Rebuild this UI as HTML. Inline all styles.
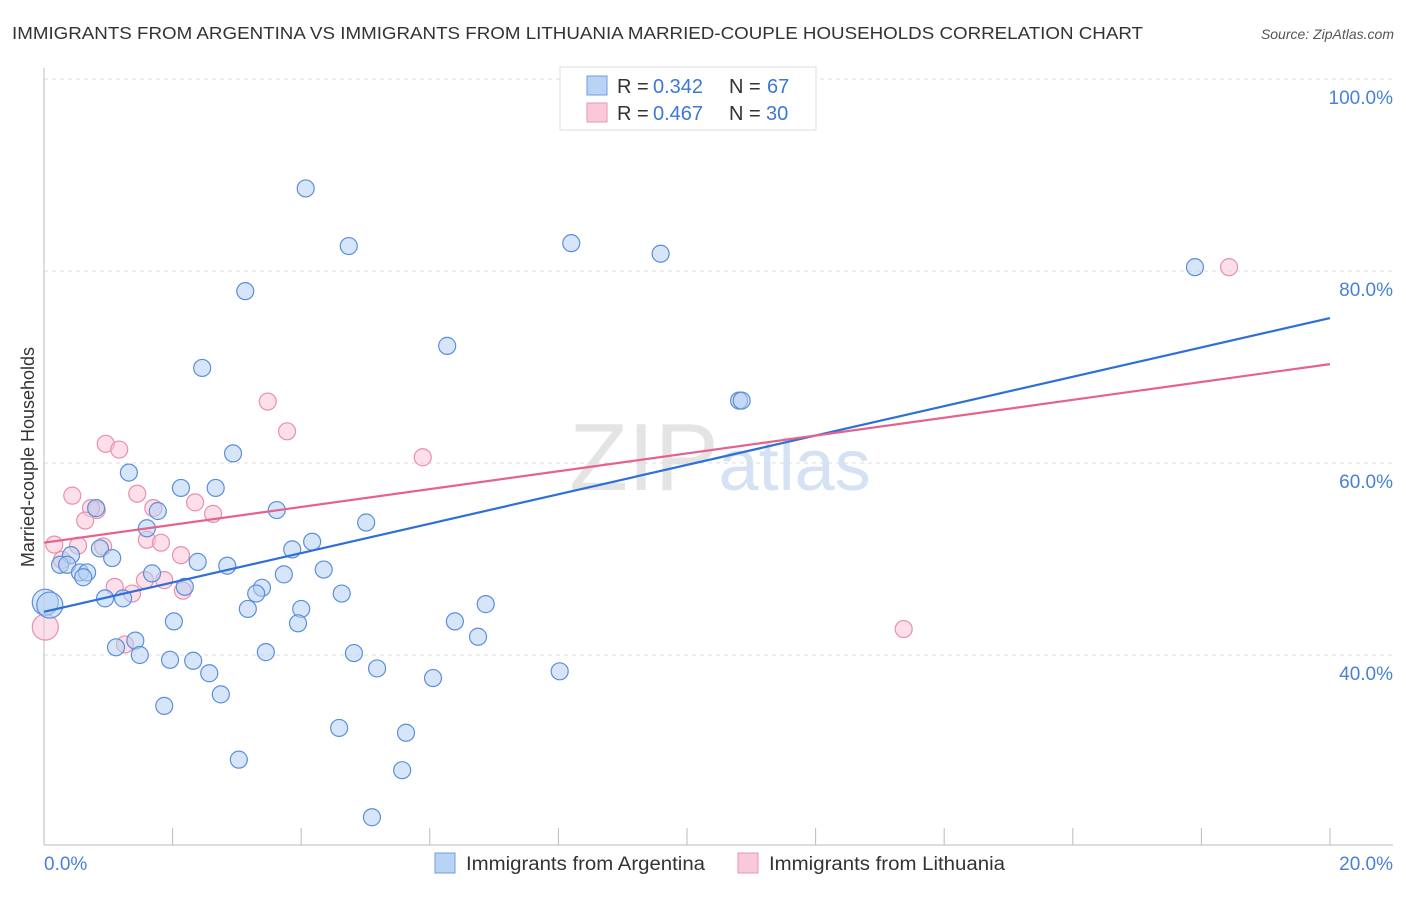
<!DOCTYPE html>
<html><head><meta charset="utf-8"><style>
body{margin:0;background:#fff;font-family:"Liberation Sans",sans-serif;}
svg text{font-family:"Liberation Sans",sans-serif;}
</style></head><body>
<svg id="chart" width="1406" height="892" viewBox="0 0 1406 892">
<text x="12" y="39" font-size="17.5" fill="#333" textLength="1131" lengthAdjust="spacingAndGlyphs">IMMIGRANTS FROM ARGENTINA VS IMMIGRANTS FROM LITHUANIA MARRIED-COUPLE HOUSEHOLDS CORRELATION CHART</text>
<text x="1394" y="39" font-size="14" fill="#555" font-style="italic" text-anchor="end">Source: ZipAtlas.com</text>
<text x="720" y="490" font-size="96" fill="#e4e4e4" text-anchor="middle" font-family="Liberation Serif">ZIP<tspan fill="#d4e2f4" font-family="Liberation Sans" font-size="72">atlas</tspan></text>
<g id="grid"></g>
<g id="axes"></g>
<g id="pts"></g>
<g id="lines"></g>
<text transform="translate(34,457) rotate(-90)" font-size="18" fill="#333" text-anchor="middle">Married-couple Households</text>
<g>
<rect x="560" y="67" width="256" height="63" fill="#fff" stroke="#ddd"/>
<rect x="587" y="76" width="20" height="19" fill="#b9d3f4" stroke="#6d9de0"/>
<rect x="587" y="103" width="20" height="19" fill="#f9c9d8" stroke="#e896b2"/>
<text x="617" y="93" font-size="20" fill="#333">R =</text>
<text x="653" y="93" font-size="20" fill="#3b78d8">0.342</text>
<text x="729" y="93" font-size="20" fill="#333">N =</text>
<text x="767" y="93" font-size="20" fill="#3b78d8">67</text>
<text x="617" y="120" font-size="20" fill="#333">R =</text>
<text x="653" y="120" font-size="20" fill="#3b78d8">0.467</text>
<text x="729" y="120" font-size="20" fill="#333">N =</text>
<text x="766" y="120" font-size="20" fill="#3b78d8">30</text>
</g>
<g>
<rect x="435" y="853" width="20" height="20" fill="#b9d3f4" stroke="#6d9de0"/>
<text x="466" y="870" font-size="19" fill="#333" textLength="239" lengthAdjust="spacingAndGlyphs">Immigrants from Argentina</text>
<rect x="738" y="853" width="20" height="20" fill="#f9c9d8" stroke="#e896b2"/>
<text x="769" y="870" font-size="19" fill="#333" textLength="236" lengthAdjust="spacingAndGlyphs">Immigrants from Lithuania</text>
</g>
</svg>
<script>
const blueX=[4.07,4.74,8.20,9.59,17.90,3.13,6.27,2.46,10.81,10.85,2.94,1.32,2.13,2.67,0.81,1.77,3.62,1.60,5.01,4.17,3.86,0.87,1.06,0.42,0.25,0.36,0.56,0.67,2.39,2.85,1.68,3.73,4.35,0.02,0.09,0.95,1.23,2.19,3.39,3.30,4.63,3.17,4.00,6.87,2.02,3.95,6.39,6.75,1.42,1.12,1.49,3.45,4.82,1.96,2.32,5.18,8.02,2.57,6.05,2.75,1.87,4.59,5.63,3.03,5.57,5.10,0.61];
const blueY=[88.6,82.6,82.9,81.8,80.4,77.9,72.2,69.9,66.5,66.5,61.0,59.0,57.4,57.4,55.3,55.0,55.1,53.2,53.8,51.8,51.0,51.1,50.1,50.4,49.4,49.4,48.6,48.6,49.7,49.3,48.5,48.4,48.9,45.5,45.2,45.9,45.9,47.1,47.0,46.4,46.4,44.8,44.8,45.3,43.5,43.3,43.5,41.9,41.5,40.8,40.0,40.3,40.2,39.5,39.4,38.6,38.3,38.1,37.6,35.9,34.7,32.4,31.9,29.1,28.0,23.1,48.1];
const pinkX=[18.43,3.48,3.78,5.89,0.96,1.17,0.44,1.45,2.35,0.82,0.73,1.70,0.64,2.63,1.60,1.82,0.16,0.53,0.92,2.13,0.28,1.57,1.87,1.10,1.37,2.16,1.26,13.37,0.02];
const pinkY=[80.4,66.4,63.3,60.6,62.0,61.4,56.6,56.8,55.9,55.1,55.3,55.3,54.0,54.7,52.0,51.7,51.5,51.4,51.3,50.4,49.9,47.8,47.8,47.1,46.4,46.7,41.1,42.7,42.9];
const blueTrend=[44.5,75.1];
const pinkTrend=[51.7,70.3];
const yTicks=[100,80,60,40];
const yTickLabels=["100.0%","80.0%","60.0%","40.0%"];
const xTicks=[0,2,4,6,8,10,12,14,16,18,20];
const xs=v=>44+v/20*1286;
const ys=v=>79+(100-v)*9.6;
const NS="http://www.w3.org/2000/svg";
function mk(tag,attrs,parent){const e=document.createElementNS(NS,tag);for(const k in attrs)e.setAttribute(k,attrs[k]);parent.appendChild(e);return e;}
const grid=document.getElementById('grid'),axes=document.getElementById('axes'),pts=document.getElementById('pts'),lines=document.getElementById('lines');
yTicks.forEach((t,i)=>{
 const g=mk('line',{x1:44,x2:1393,y1:ys(t),y2:ys(t),stroke:'#ddd','stroke-dasharray':'4,4'},grid);
 
 
 const tx=mk('text',{x:1393,y:ys(t)+25,'font-size':19,fill:'#4a80d8','text-anchor':'end'},axes);
 tx.textContent=yTickLabels[i];
 
 
});
const ax=mk('line',{x1:44,x2:44,y1:68,y2:845,stroke:'#bbb'},axes);


const bx=mk('line',{x1:44,x2:1393,y1:845,y2:845,stroke:'#bbb'},axes);


xTicks.forEach(t=>{
 const l=mk('line',{x1:xs(t),x2:xs(t),y1:828,y2:845,stroke:'#bbb'},axes);
 
 
});
const xl0=mk('text',{x:44,y:870,'font-size':19,fill:'#4a80d8'},axes);xl0.textContent='0.0%';


const xl1=mk('text',{x:1393,y:870,'font-size':19,fill:'#4a80d8','text-anchor':'end'},axes);xl1.textContent='20.0%';


function dots(X,Y,fill,stroke,name){
 X.forEach((x,i)=>{
  const r=x<0.1?13:8.5;
  const c=mk('circle',{cx:xs(x),cy:ys(Y[i]),r:r,fill:fill,'fill-opacity':0.55,stroke:stroke,'stroke-width':1.2},pts);
  
  
 });
}
dots(pinkX,pinkY,'#f9c4d5','#e890ad','lithuania-point');
dots(blueX,blueY,'#b5d0f3','#5b8fdc','argentina-point');
const bl=mk('line',{x1:xs(0),y1:ys(blueTrend[0]),x2:xs(20),y2:ys(blueTrend[1]),stroke:'#2f6fd8','stroke-width':2.2},lines);


const pl=mk('line',{x1:xs(0),y1:ys(pinkTrend[0]),x2:xs(20),y2:ys(pinkTrend[1]),stroke:'#e4628e','stroke-width':2.2},lines);


</script>
</body></html>
